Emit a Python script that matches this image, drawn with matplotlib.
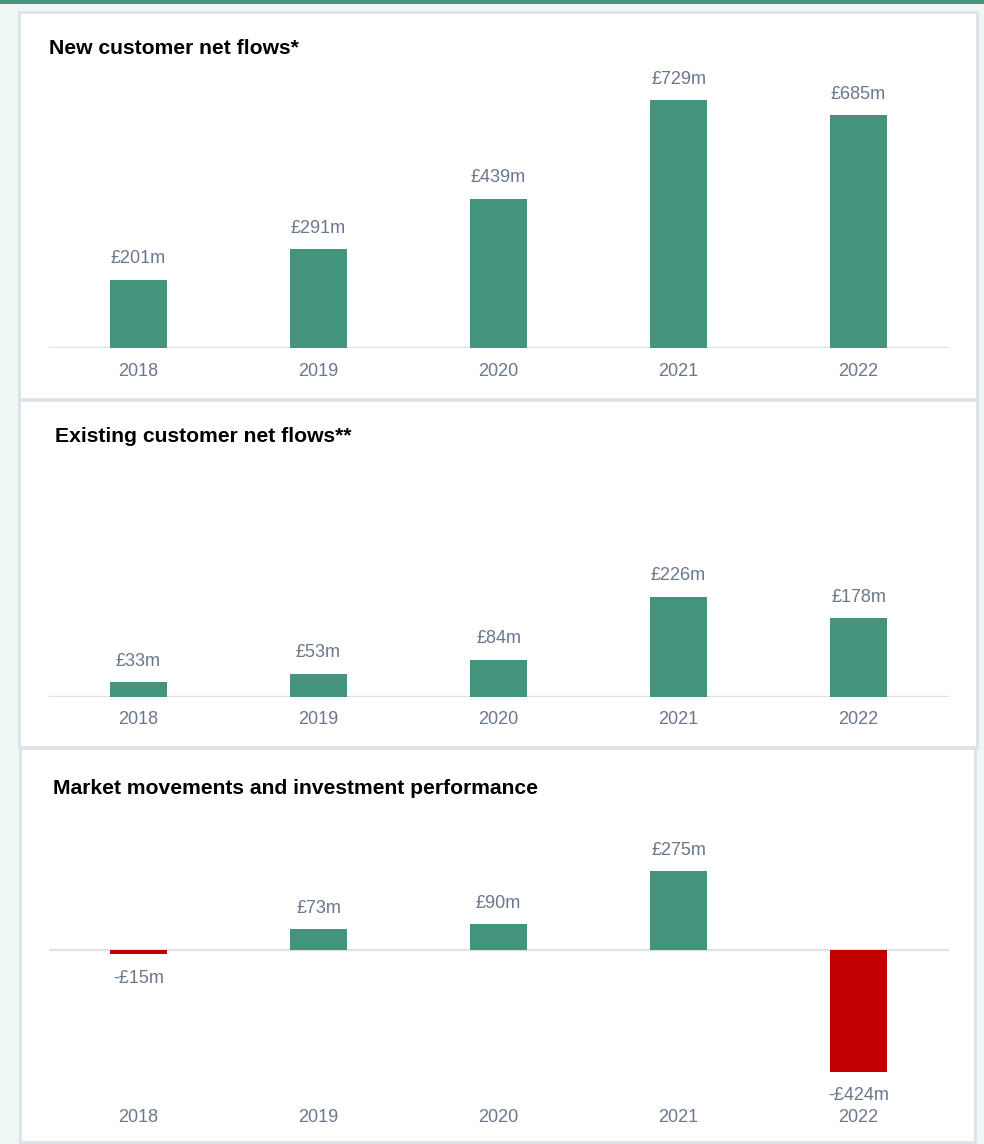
import matplotlib
matplotlib.use("Agg")
from matplotlib import pyplot as plt
from matplotlib.patches import Rectangle
from matplotlib.transforms import blended_transform_factory

plt.rcParams['font.family'] = ['Liberation Sans', 'DejaVu Sans']

years = ["2018", "2019", "2020", "2021", "2022"]
new_flows = [201, 291, 439, 729, 685]
existing_flows = [33, 53, 84, 226, 178]
market_moves = [-15, 73, 90, 275, -424]
titles = ["New customer net flows*",
          "Existing customer net flows**",
          "Market movements and investment performance"]

W, H = 984, 1144
GREEN = "#43947c"
RED = "#c00000"
TXT = "#6b778d"
LINE = "#dde1e8"


def fx(x):
    return x / W


def fy(y):
    return 1 - y / H


fig = plt.figure(figsize=(W / 100, H / 100), dpi=100)
fig.patch.set_facecolor("#eef7f3")

# top band
fig.add_artist(Rectangle((0, fy(4)), 1, 4 / H, transform=fig.transFigure,
                         facecolor="#43967c", edgecolor="none", zorder=-1))

# panel boxes (left, top, right, bottom) in pixels
panels = [(19, 12, 977, 399), (19, 400, 977, 747), (20, 748, 975, 1142)]
for l, t, r, b in panels:
    fig.add_artist(Rectangle((fx(l), fy(b)), (r - l) / W, (b - t) / H,
                             transform=fig.transFigure, facecolor="white",
                             edgecolor=LINE, linewidth=2, zorder=-1))

title_pos = [(49, 48), (55, 437), (53, 788)]
for (x, y), t in zip(title_pos, titles):
    fig.text(fx(x), fy(y), t, fontsize=15.2, fontweight="bold",
             color="black", ha="left", va="center")

# axes: top px, bottom px, ylim, year label px offset below axes bottom
specs = [
    (new_flows, 30, 348, (0, 935), 24),
    (existing_flows, 420, 697, (0, 626), 23),
    (market_moves, 830, 1100, (-522, 418), 17),
]

for values, top, bot, ylim, yoff in specs:
    ax = fig.add_axes([fx(48.5), fy(bot), 900 / W, (bot - top) / H])
    ax.set_xlim(-0.5, 4.5)
    ax.set_ylim(*ylim)
    ax.axis("off")
    ax.axhline(0, color=LINE, linewidth=1.7, zorder=0)
    colors = [GREEN if v >= 0 else RED for v in values]
    x = range(len(values))
    ax.bar(x, values, width=0.315, color=colors, zorder=2)
    for i, v in enumerate(values):
        label = f"£{v}m" if v >= 0 else f"-£{abs(v)}m"
        off = 21 if v >= 0 else -24
        ax.annotate(label, (i, v), xytext=(0, off * 0.72),
                    textcoords="offset points", ha="center", va="center",
                    fontsize=13, color=TXT)
    trans = blended_transform_factory(ax.transData, ax.transAxes)
    for i, yr in enumerate(years):
        ax.annotate(yr, (i, 0), xycoords=trans, xytext=(0, -yoff * 0.72),
                    textcoords="offset points", ha="center", va="center",
                    fontsize=13, color=TXT)

fig.savefig("out.png", dpi=100, facecolor=fig.get_facecolor())
